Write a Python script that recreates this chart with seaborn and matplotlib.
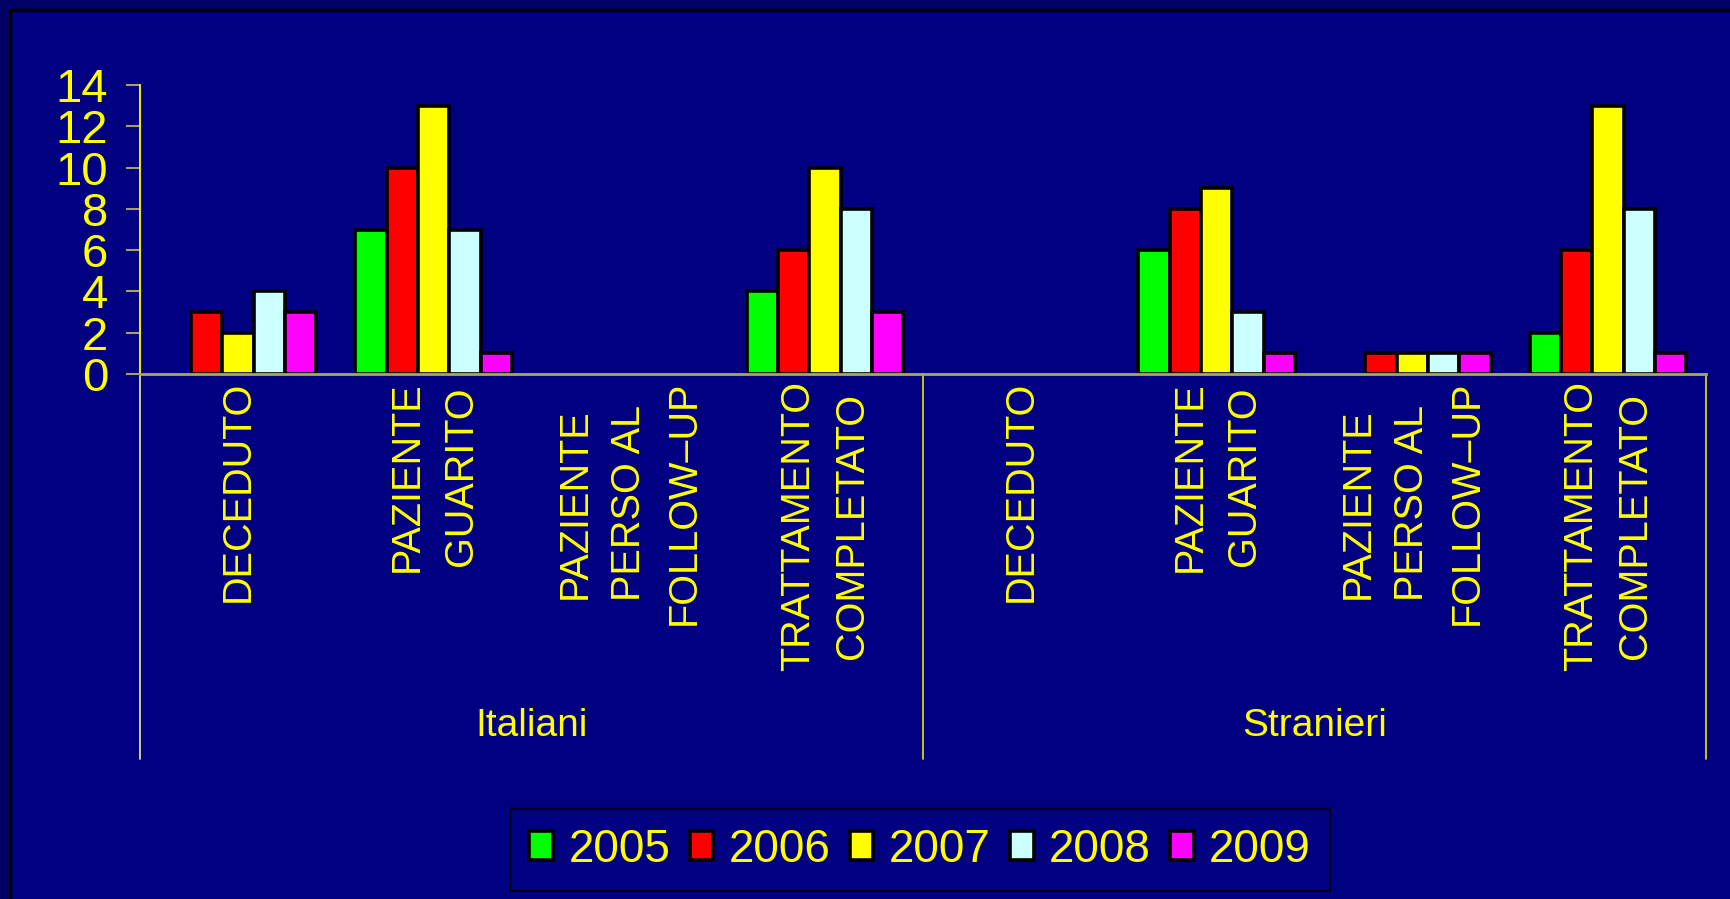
import matplotlib
matplotlib.use("Agg")
import matplotlib.pyplot as plt
import seaborn as sns
import pandas as pd
from matplotlib.patches import Rectangle
from matplotlib.lines import Line2D

# Data
groups = ["Italiani", "Stranieri"]
outcomes = ["DECEDUTO", "PAZIENTE\nGUARITO", "PAZIENTE\nPERSO AL\nFOLLOW\u2013UP",
            "TRATTAMENTO\nCOMPLETATO"]
years = ["2005", "2006", "2007", "2008", "2009"]

# values per year: Italiani (4 outcomes) then Stranieri (4 outcomes)
v2005 = [0, 7, 0, 4, 0, 6, 0, 2]
v2006 = [3, 10, 0, 6, 0, 8, 1, 6]
v2007 = [2, 13, 0, 10, 0, 9, 1, 13]
v2008 = [4, 7, 0, 8, 0, 3, 1, 8]
v2009 = [3, 1, 0, 3, 0, 1, 1, 1]

bar_colors = ["#00FF00", "#FF0000", "#FFFF00", "#CCFFFF", "#FF00FF"]

# long table, zero counts are not drawn
keys = [g + "|" + o for g in groups for o in outcomes]
rows = []
for year, vals in zip(years, [v2005, v2006, v2007, v2008, v2009]):
    for k, v in zip(keys, vals):
        if v > 0:
            rows.append({"cat": k, "year": year, "count": v})
df = pd.DataFrame(rows)

sns.set_theme(style="white")
plt.rcParams['font.family'] = ['Liberation Sans', 'DejaVu Sans']

YELLOW = "#FFFF00"
NAVY = "#000080"

fig = plt.figure(figsize=(17.3, 8.99), dpi=100)
fig.patch.set_facecolor("#000066")
# inner slide panel with black border (behind the axes)
fig.patches.append(Rectangle((10 / 1730, -0.05), 1.05, 1 - 10 / 899 + 0.05,
                             transform=fig.transFigure, facecolor=NAVY,
                             edgecolor="black", linewidth=2.5, zorder=-5))

ax = fig.add_axes([140 / 1730, 1 - 374 / 899, 1566 / 1730, 289 / 899])
ax.set_facecolor("none")

sns.barplot(data=df, x="cat", y="count", hue="year", order=keys,
            hue_order=years, palette=bar_colors, width=0.8,
            edgecolor="black", linewidth=2.6, saturation=1, ax=ax,
            legend=True)

ax.set_xlim(-0.5, len(keys) - 0.5)
ax.set_ylim(0, 14)
ax.set_yticks(range(0, 15, 2))
ax.set_xlabel("")
ax.set_ylabel("")

for s in ["top", "right"]:
    ax.spines[s].set_visible(False)
ax.spines["left"].set_color(YELLOW)
ax.spines["left"].set_linewidth(1.3)
ax.spines["bottom"].set_color("#A8A860")
ax.spines["bottom"].set_linewidth(2)

ax.tick_params(axis="y", colors="#A8A060", labelcolor=YELLOW, labelsize=34,
               length=10, width=1.5, pad=13, left=True)
ax.tick_params(axis="x", length=0, pad=5, bottom=False)
ax.set_xticks(range(len(keys)))
ax.set_xticklabels(outcomes * len(groups), rotation=90, va="top", ha="center",
                   multialignment="center", linespacing=1.55,
                   color=YELLOW, fontsize=28.5)

# group separators and group labels below the axis
trans = ax.get_xaxis_transform()
for xpos in [-0.5, 3.5, 7.5]:
    ax.add_line(Line2D([xpos, xpos], [0, -(759 - 374) / 289], transform=trans,
                       color="#F0F0A0" if xpos < 0 else "#E8E800",
                       linewidth=1.2, clip_on=False))
for i, g in enumerate(groups):
    ax.text(i * len(outcomes) + (len(outcomes) - 1) / 2, -(726 - 374) / 289, g,
            transform=trans, ha="center", va="center", color=YELLOW,
            fontsize=28)

# legend
handles, labels = ax.get_legend_handles_labels()
leg = ax.legend(handles, labels, ncol=5, loc="center",
                bbox_to_anchor=(920 / 1730, 1 - 850 / 899),
                bbox_transform=fig.transFigure, fontsize=33,
                handlelength=0.52, handleheight=0.6, handletextpad=0.33,
                columnspacing=0.42, borderpad=0.42, frameon=True, fancybox=False)
leg.get_frame().set_facecolor(NAVY)
leg.get_frame().set_edgecolor("black")
leg.get_frame().set_linewidth(1.5)
for t in leg.get_texts():
    t.set_color(YELLOW)

fig.savefig("out.png", dpi=100, facecolor=fig.get_facecolor())
